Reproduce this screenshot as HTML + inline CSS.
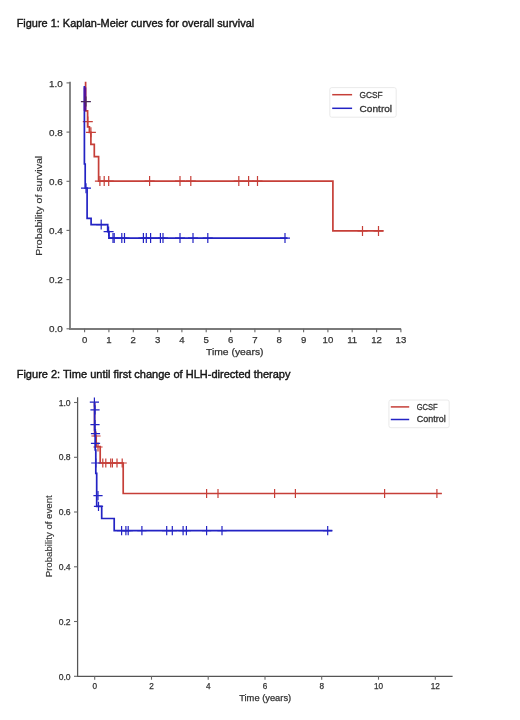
<!DOCTYPE html>
<html><head><meta charset="utf-8"><style>
html,body{margin:0;padding:0;background:#fff;}
body{width:520px;height:720px;overflow:hidden;}
svg{display:block;will-change:transform;font-family:"Liberation Sans",sans-serif;}
</style></head><body>
<svg width="520" height="720" viewBox="0 0 520 720">
<rect width="520" height="720" fill="#fff"/>
<text x="16.7" y="26.9" font-size="11.0" text-anchor="start" fill="#141414" stroke="#141414" stroke-width="0.4" textLength="237.5" lengthAdjust="spacingAndGlyphs">Figure 1: Kaplan-Meier curves for overall survival</text>
<text x="16.7" y="378.4" font-size="11.0" text-anchor="start" fill="#141414" stroke="#141414" stroke-width="0.4" textLength="273.8" lengthAdjust="spacingAndGlyphs">Figure 2: Time until first change of HLH-directed therapy</text>
<path d="M70 81.7V329H401" stroke="#7a7a7a" stroke-width="1.8" fill="none"/>
<path d="M66.5 328.8H70" stroke="#686868" stroke-width="1.1"/>
<text x="62.8" y="332.40000000000003" font-size="9.9" text-anchor="end" fill="#333333" stroke="#333333" stroke-width="0.25">0.0</text>
<path d="M66.5 279.6H70" stroke="#686868" stroke-width="1.1"/>
<text x="62.8" y="283.22" font-size="9.9" text-anchor="end" fill="#333333" stroke="#333333" stroke-width="0.25">0.2</text>
<path d="M66.5 230.4H70" stroke="#686868" stroke-width="1.1"/>
<text x="62.8" y="234.04" font-size="9.9" text-anchor="end" fill="#333333" stroke="#333333" stroke-width="0.25">0.4</text>
<path d="M66.5 181.3H70" stroke="#686868" stroke-width="1.1"/>
<text x="62.8" y="184.85999999999999" font-size="9.9" text-anchor="end" fill="#333333" stroke="#333333" stroke-width="0.25">0.6</text>
<path d="M66.5 132.1H70" stroke="#686868" stroke-width="1.1"/>
<text x="62.8" y="135.67999999999998" font-size="9.9" text-anchor="end" fill="#333333" stroke="#333333" stroke-width="0.25">0.8</text>
<path d="M66.5 82.9H70" stroke="#686868" stroke-width="1.1"/>
<text x="62.8" y="86.5" font-size="9.9" text-anchor="end" fill="#333333" stroke="#333333" stroke-width="0.25">1.0</text>
<path d="M84.6 328.8V332.2" stroke="#686868" stroke-width="1.1"/>
<text x="84.6" y="342.8" font-size="9.6" text-anchor="middle" fill="#333333" stroke="#333333" stroke-width="0.25">0</text>
<path d="M108.9 328.8V332.2" stroke="#686868" stroke-width="1.1"/>
<text x="108.92999999999999" y="342.8" font-size="9.6" text-anchor="middle" fill="#333333" stroke="#333333" stroke-width="0.25">1</text>
<path d="M133.3 328.8V332.2" stroke="#686868" stroke-width="1.1"/>
<text x="133.26" y="342.8" font-size="9.6" text-anchor="middle" fill="#333333" stroke="#333333" stroke-width="0.25">2</text>
<path d="M157.6 328.8V332.2" stroke="#686868" stroke-width="1.1"/>
<text x="157.58999999999997" y="342.8" font-size="9.6" text-anchor="middle" fill="#333333" stroke="#333333" stroke-width="0.25">3</text>
<path d="M181.9 328.8V332.2" stroke="#686868" stroke-width="1.1"/>
<text x="181.92" y="342.8" font-size="9.6" text-anchor="middle" fill="#333333" stroke="#333333" stroke-width="0.25">4</text>
<path d="M206.2 328.8V332.2" stroke="#686868" stroke-width="1.1"/>
<text x="206.25" y="342.8" font-size="9.6" text-anchor="middle" fill="#333333" stroke="#333333" stroke-width="0.25">5</text>
<path d="M230.6 328.8V332.2" stroke="#686868" stroke-width="1.1"/>
<text x="230.57999999999998" y="342.8" font-size="9.6" text-anchor="middle" fill="#333333" stroke="#333333" stroke-width="0.25">6</text>
<path d="M254.9 328.8V332.2" stroke="#686868" stroke-width="1.1"/>
<text x="254.91" y="342.8" font-size="9.6" text-anchor="middle" fill="#333333" stroke="#333333" stroke-width="0.25">7</text>
<path d="M279.2 328.8V332.2" stroke="#686868" stroke-width="1.1"/>
<text x="279.24" y="342.8" font-size="9.6" text-anchor="middle" fill="#333333" stroke="#333333" stroke-width="0.25">8</text>
<path d="M303.6 328.8V332.2" stroke="#686868" stroke-width="1.1"/>
<text x="303.56999999999994" y="342.8" font-size="9.6" text-anchor="middle" fill="#333333" stroke="#333333" stroke-width="0.25">9</text>
<path d="M327.9 328.8V332.2" stroke="#686868" stroke-width="1.1"/>
<text x="327.9" y="342.8" font-size="9.6" text-anchor="middle" fill="#333333" stroke="#333333" stroke-width="0.25">10</text>
<path d="M352.2 328.8V332.2" stroke="#686868" stroke-width="1.1"/>
<text x="352.23" y="342.8" font-size="9.6" text-anchor="middle" fill="#333333" stroke="#333333" stroke-width="0.25">11</text>
<path d="M376.6 328.8V332.2" stroke="#686868" stroke-width="1.1"/>
<text x="376.55999999999995" y="342.8" font-size="9.6" text-anchor="middle" fill="#333333" stroke="#333333" stroke-width="0.25">12</text>
<path d="M400.9 328.8V332.2" stroke="#686868" stroke-width="1.1"/>
<text x="400.89" y="342.8" font-size="9.6" text-anchor="middle" fill="#333333" stroke="#333333" stroke-width="0.25">13</text>
<text x="234.8" y="355.0" font-size="9.4" text-anchor="middle" fill="#333333" stroke="#333333" stroke-width="0.25" textLength="57.4" lengthAdjust="spacingAndGlyphs">Time (years)</text>
<text x="0" y="0" font-size="9.4" text-anchor="middle" fill="#333333" stroke="#333333" stroke-width="0.15" textLength="100" lengthAdjust="spacingAndGlyphs" transform="translate(42.4 205.8) rotate(-90)">Probability of survival</text>
<path d="M85.6 81.8V110.9H87.6V126.9H89.4V132.3H90.9V144.4H94.3V156.7H98.6V181.1H332.9V230.9H383.5" stroke="#c63f38" stroke-width="1.7" fill="none"/>
<path d="M82.8 121.6H92.8M87.8 116.6V126.6" stroke="#c63f38" stroke-width="1.2" fill="none"/>
<path d="M85.9 132.3H95.9M90.9 127.3V137.3" stroke="#c63f38" stroke-width="1.2" fill="none"/>
<path d="M94.9 181.1H104.9M99.9 176.1V186.1" stroke="#c63f38" stroke-width="1.2" fill="none"/>
<path d="M99.2 181.1H109.2M104.2 176.1V186.1" stroke="#c63f38" stroke-width="1.2" fill="none"/>
<path d="M103.7 181.1H113.7M108.7 176.1V186.1" stroke="#c63f38" stroke-width="1.2" fill="none"/>
<path d="M144.6 181.1H154.6M149.6 176.1V186.1" stroke="#c63f38" stroke-width="1.2" fill="none"/>
<path d="M175.0 181.1H185.0M180.0 176.1V186.1" stroke="#c63f38" stroke-width="1.2" fill="none"/>
<path d="M185.8 181.1H195.8M190.8 176.1V186.1" stroke="#c63f38" stroke-width="1.2" fill="none"/>
<path d="M233.8 181.1H243.8M238.8 176.1V186.1" stroke="#c63f38" stroke-width="1.2" fill="none"/>
<path d="M243.6 181.1H253.6M248.6 176.1V186.1" stroke="#c63f38" stroke-width="1.2" fill="none"/>
<path d="M252.5 181.1H262.5M257.5 176.1V186.1" stroke="#c63f38" stroke-width="1.2" fill="none"/>
<path d="M357.5 230.9H367.5M362.5 225.9V235.9" stroke="#c63f38" stroke-width="1.2" fill="none"/>
<path d="M373.5 230.9H383.5M378.5 225.9V235.9" stroke="#c63f38" stroke-width="1.2" fill="none"/>
<path d="M84.4 86V164H85.2V188.2H87.1V218.4H91.1V224.6H107.7V231.6H109V238.1H287.5" stroke="#2323c4" stroke-width="1.7" fill="none"/>
<path d="M81.0 188.2H91.0M86.0 183.2V193.2" stroke="#2323c4" stroke-width="1.2" fill="none"/>
<path d="M96.2 224.6H106.2M101.2 219.6V229.6" stroke="#2323c4" stroke-width="1.2" fill="none"/>
<path d="M103.6 231.6H113.6M108.6 226.6V236.6" stroke="#2323c4" stroke-width="1.2" fill="none"/>
<path d="M108.0 238.1H118.0M113.0 233.1V243.1" stroke="#2323c4" stroke-width="1.2" fill="none"/>
<path d="M109.2 238.1H119.2M114.2 233.1V243.1" stroke="#2323c4" stroke-width="1.2" fill="none"/>
<path d="M116.8 238.1H126.8M121.8 233.1V243.1" stroke="#2323c4" stroke-width="1.2" fill="none"/>
<path d="M119.5 238.1H129.5M124.5 233.1V243.1" stroke="#2323c4" stroke-width="1.2" fill="none"/>
<path d="M138.4 238.1H148.4M143.4 233.1V243.1" stroke="#2323c4" stroke-width="1.2" fill="none"/>
<path d="M141.3 238.1H151.3M146.3 233.1V243.1" stroke="#2323c4" stroke-width="1.2" fill="none"/>
<path d="M145.6 238.1H155.6M150.6 233.1V243.1" stroke="#2323c4" stroke-width="1.2" fill="none"/>
<path d="M155.4 238.1H165.4M160.4 233.1V243.1" stroke="#2323c4" stroke-width="1.2" fill="none"/>
<path d="M158.0 238.1H168.0M163.0 233.1V243.1" stroke="#2323c4" stroke-width="1.2" fill="none"/>
<path d="M175.0 238.1H185.0M180.0 233.1V243.1" stroke="#2323c4" stroke-width="1.2" fill="none"/>
<path d="M188.0 238.1H198.0M193.0 233.1V243.1" stroke="#2323c4" stroke-width="1.2" fill="none"/>
<path d="M202.8 238.1H212.8M207.8 233.1V243.1" stroke="#2323c4" stroke-width="1.2" fill="none"/>
<path d="M280.0 238.1H290.0M285.0 233.1V243.1" stroke="#2323c4" stroke-width="1.2" fill="none"/>
<path d="M85 87.4V110.9" stroke="#55129a" stroke-width="2.6"/>
<path d="M80.9 101.6H90.9M85.9 96.6V106.6" stroke="#4a2a5a" stroke-width="1.2" fill="none"/>
<rect x="329.8" y="87.6" width="66.4" height="29.6" rx="2" fill="#fff" stroke="#e4e4e4" stroke-width="0.8"/>
<path d="M332.2 94.7H352.1" stroke="#c63f38" stroke-width="1.5"/>
<path d="M332.2 108.3H352.1" stroke="#2323c4" stroke-width="1.5"/>
<text x="359.6" y="97.6" font-size="9.4" text-anchor="start" fill="#333333" stroke="#333333" stroke-width="0.3" textLength="23.1" lengthAdjust="spacingAndGlyphs">GCSF</text>
<text x="359.6" y="111.6" font-size="9.4" text-anchor="start" fill="#333333" stroke="#333333" stroke-width="0.3" textLength="32.5" lengthAdjust="spacingAndGlyphs">Control</text>
<path d="M77.6 397.2V676.3H452.6" stroke="#555" stroke-width="1.25" fill="none"/>
<path d="M74 676.3H77.5" stroke="#686868" stroke-width="1.1"/>
<text x="70.6" y="679.5" font-size="8.6" text-anchor="end" fill="#333333" stroke="#333333" stroke-width="0.25">0.0</text>
<path d="M74 621.5H77.5" stroke="#686868" stroke-width="1.1"/>
<text x="70.6" y="624.74" font-size="8.6" text-anchor="end" fill="#333333" stroke="#333333" stroke-width="0.25">0.2</text>
<path d="M74 566.8H77.5" stroke="#686868" stroke-width="1.1"/>
<text x="70.6" y="569.98" font-size="8.6" text-anchor="end" fill="#333333" stroke="#333333" stroke-width="0.25">0.4</text>
<path d="M74 512.0H77.5" stroke="#686868" stroke-width="1.1"/>
<text x="70.6" y="515.22" font-size="8.6" text-anchor="end" fill="#333333" stroke="#333333" stroke-width="0.25">0.6</text>
<path d="M74 457.3H77.5" stroke="#686868" stroke-width="1.1"/>
<text x="70.6" y="460.4599999999999" font-size="8.6" text-anchor="end" fill="#333333" stroke="#333333" stroke-width="0.25">0.8</text>
<path d="M74 402.5H77.5" stroke="#686868" stroke-width="1.1"/>
<text x="70.6" y="405.69999999999993" font-size="8.6" text-anchor="end" fill="#333333" stroke="#333333" stroke-width="0.25">1.0</text>
<path d="M94.7 676.3V679.6999999999999" stroke="#686868" stroke-width="1.1"/>
<text x="94.7" y="688.8" font-size="8.2" text-anchor="middle" fill="#333333" stroke="#333333" stroke-width="0.25">0</text>
<path d="M151.5 676.3V679.6999999999999" stroke="#686868" stroke-width="1.1"/>
<text x="151.46" y="688.8" font-size="8.2" text-anchor="middle" fill="#333333" stroke="#333333" stroke-width="0.25">2</text>
<path d="M208.2 676.3V679.6999999999999" stroke="#686868" stroke-width="1.1"/>
<text x="208.22" y="688.8" font-size="8.2" text-anchor="middle" fill="#333333" stroke="#333333" stroke-width="0.25">4</text>
<path d="M265.0 676.3V679.6999999999999" stroke="#686868" stroke-width="1.1"/>
<text x="264.98" y="688.8" font-size="8.2" text-anchor="middle" fill="#333333" stroke="#333333" stroke-width="0.25">6</text>
<path d="M321.7 676.3V679.6999999999999" stroke="#686868" stroke-width="1.1"/>
<text x="321.74" y="688.8" font-size="8.2" text-anchor="middle" fill="#333333" stroke="#333333" stroke-width="0.25">8</text>
<path d="M378.5 676.3V679.6999999999999" stroke="#686868" stroke-width="1.1"/>
<text x="378.5" y="688.8" font-size="8.2" text-anchor="middle" fill="#333333" stroke="#333333" stroke-width="0.25">10</text>
<path d="M435.3 676.3V679.6999999999999" stroke="#686868" stroke-width="1.1"/>
<text x="435.26" y="688.8" font-size="8.2" text-anchor="middle" fill="#333333" stroke="#333333" stroke-width="0.25">12</text>
<text x="265.2" y="700.6" font-size="8.6" text-anchor="middle" fill="#333333" stroke="#333333" stroke-width="0.25" textLength="52" lengthAdjust="spacingAndGlyphs">Time (years)</text>
<text x="0" y="0" font-size="8.4" text-anchor="middle" fill="#333333" stroke="#333333" stroke-width="0.15" textLength="82" lengthAdjust="spacingAndGlyphs" transform="translate(52.2 536.3) rotate(-90)">Probability of event</text>
<path d="M94.6 402.5V436H96.2V446.5H100.2V463H123.2V493.5H441.8" stroke="#c63f38" stroke-width="1.7" fill="none"/>
<path d="M91.4 436.0H100.6M96.0 431.4V440.6" stroke="#c63f38" stroke-width="1.2" fill="none"/>
<path d="M93.4 447.0H102.6M98.0 442.4V451.6" stroke="#c63f38" stroke-width="1.2" fill="none"/>
<path d="M98.2 463.0H107.4M102.8 458.4V467.6" stroke="#c63f38" stroke-width="1.2" fill="none"/>
<path d="M101.2 463.0H110.4M105.8 458.4V467.6" stroke="#c63f38" stroke-width="1.2" fill="none"/>
<path d="M106.1 463.0H115.3M110.7 458.4V467.6" stroke="#c63f38" stroke-width="1.2" fill="none"/>
<path d="M107.8 463.0H117.0M112.4 458.4V467.6" stroke="#c63f38" stroke-width="1.2" fill="none"/>
<path d="M112.4 463.0H121.6M117.0 458.4V467.6" stroke="#c63f38" stroke-width="1.2" fill="none"/>
<path d="M117.6 463.0H126.8M122.2 458.4V467.6" stroke="#c63f38" stroke-width="1.2" fill="none"/>
<path d="M202.0 493.5H211.2M206.6 488.9V498.1" stroke="#c63f38" stroke-width="1.2" fill="none"/>
<path d="M213.4 493.5H222.6M218.0 488.9V498.1" stroke="#c63f38" stroke-width="1.2" fill="none"/>
<path d="M270.0 493.5H279.2M274.6 488.9V498.1" stroke="#c63f38" stroke-width="1.2" fill="none"/>
<path d="M290.8 493.5H300.0M295.4 488.9V498.1" stroke="#c63f38" stroke-width="1.2" fill="none"/>
<path d="M380.0 493.5H389.2M384.6 488.9V498.1" stroke="#c63f38" stroke-width="1.2" fill="none"/>
<path d="M432.3 493.5H441.5M436.9 488.9V498.1" stroke="#c63f38" stroke-width="1.2" fill="none"/>
<path d="M94.6 402.5V430H95.2V450H95.8V473.3H96.7V506.4H101.7V518.5H114.2V530.6H332.3" stroke="#2323c4" stroke-width="1.7" fill="none"/>
<path d="M89.8 402.1H99.0M94.4 397.5V406.7" stroke="#2323c4" stroke-width="1.2" fill="none"/>
<path d="M90.4 409.8H99.6M95.0 405.2V414.4" stroke="#2323c4" stroke-width="1.2" fill="none"/>
<path d="M90.4 424.6H99.6M95.0 420.0V429.2" stroke="#2323c4" stroke-width="1.2" fill="none"/>
<path d="M90.9 433.6H100.1M95.5 429.0V438.2" stroke="#2323c4" stroke-width="1.2" fill="none"/>
<path d="M90.9 443.3H100.1M95.5 438.7V447.9" stroke="#2323c4" stroke-width="1.2" fill="none"/>
<path d="M91.2 463.0H100.4M95.8 458.4V467.6" stroke="#2323c4" stroke-width="1.2" fill="none"/>
<path d="M93.4 495.6H102.6M98.0 491.0V500.2" stroke="#2323c4" stroke-width="1.2" fill="none"/>
<path d="M93.9 506.4H103.1M98.5 501.8V511.0" stroke="#2323c4" stroke-width="1.2" fill="none"/>
<path d="M117.0 530.6H126.2M121.6 526.0V535.2" stroke="#2323c4" stroke-width="1.2" fill="none"/>
<path d="M121.3 530.6H130.5M125.9 526.0V535.2" stroke="#2323c4" stroke-width="1.2" fill="none"/>
<path d="M123.6 530.6H132.8M128.2 526.0V535.2" stroke="#2323c4" stroke-width="1.2" fill="none"/>
<path d="M137.3 530.6H146.5M141.9 526.0V535.2" stroke="#2323c4" stroke-width="1.2" fill="none"/>
<path d="M162.1 530.6H171.3M166.7 526.0V535.2" stroke="#2323c4" stroke-width="1.2" fill="none"/>
<path d="M167.7 530.6H176.9M172.3 526.0V535.2" stroke="#2323c4" stroke-width="1.2" fill="none"/>
<path d="M178.5 530.6H187.7M183.1 526.0V535.2" stroke="#2323c4" stroke-width="1.2" fill="none"/>
<path d="M181.8 530.6H191.0M186.4 526.0V535.2" stroke="#2323c4" stroke-width="1.2" fill="none"/>
<path d="M202.0 530.6H211.2M206.6 526.0V535.2" stroke="#2323c4" stroke-width="1.2" fill="none"/>
<path d="M217.4 530.6H226.6M222.0 526.0V535.2" stroke="#2323c4" stroke-width="1.2" fill="none"/>
<path d="M323.1 530.6H332.3M327.7 526.0V535.2" stroke="#2323c4" stroke-width="1.2" fill="none"/>
<rect x="388.9" y="400" width="60.3" height="27.7" rx="2" fill="#fff" stroke="#e4e4e4" stroke-width="0.8"/>
<path d="M390.8 406.9H409.2" stroke="#c63f38" stroke-width="1.5"/>
<path d="M390.8 419.5H409.2" stroke="#2323c4" stroke-width="1.5"/>
<text x="416.7" y="410.2" font-size="8.9" text-anchor="start" fill="#333333" stroke="#333333" stroke-width="0.3" textLength="21.0" lengthAdjust="spacingAndGlyphs">GCSF</text>
<text x="416.7" y="421.6" font-size="8.9" text-anchor="start" fill="#333333" stroke="#333333" stroke-width="0.3" textLength="29.0" lengthAdjust="spacingAndGlyphs">Control</text>
</svg>
</body></html>
